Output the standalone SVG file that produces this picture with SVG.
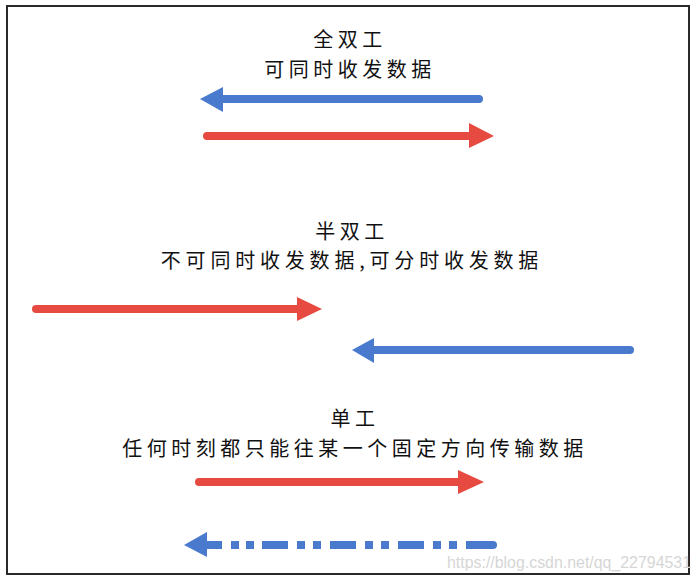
<svg xmlns="http://www.w3.org/2000/svg" width="698" height="581" viewBox="0 0 698 581">
  <style>
    .t { font-family: "Noto Sans CJK SC", "Noto Sans", sans-serif; font-size: 20px; fill: #111; text-anchor: middle; letter-spacing: 4.5px; }
    .red { stroke: #e64a40; fill: none; stroke-width: 8; stroke-linecap: round; }
    .blue { stroke: #4a7acd; fill: none; stroke-width: 8; stroke-linecap: round; }
    .bluedash { stroke: #4a7acd; fill: none; stroke-width: 8; stroke-linecap: butt; }
    .rh { fill: #e64a40; }
    .bh { fill: #4a7acd; }
    .wm { font-family: "Liberation Sans", Arial, sans-serif; font-size: 16px; fill: #d6d6d6; }
  </style>
  <rect x="0" y="0" width="698" height="581" fill="#ffffff"/>
  <rect x="7" y="6" width="682" height="568" fill="none" stroke="#2a2a2a" stroke-width="2"/>

  <g id="full-duplex">
    <text class="t" x="350" y="47">全双工</text>
    <text class="t" x="350" y="77">可同时收发数据</text>
  </g>
  <g id="half-duplex">
    <text class="t" x="352" y="239">半双工</text>
    <text class="t" x="352" y="268" style="letter-spacing:4.8px">不可同时收发数据,可分时收发数据</text>
  </g>
  <g id="simplex">
    <text class="t" x="355" y="426">单工</text>
    <text class="t" x="355" y="456">任何时刻都只能往某一个固定方向传输数据</text>
  </g>

  <g id="connectors">
    <!-- full duplex -->
    <path class="blue" d="M 479 99 H 220"/>
    <polygon class="bh" points="200,99 223,87 223,112"/>
    <path class="red" d="M 207 136 H 472"/>
    <polygon class="rh" points="494,136 469,123 469,148"/>
    <!-- half duplex -->
    <path class="red" d="M 36 309 H 300"/>
    <polygon class="rh" points="322,309 297,297 297,321"/>
    <path class="blue" d="M 630 350 H 370"/>
    <polygon class="bh" points="352,350 374,338 374,363"/>
    <!-- simplex -->
    <path class="red" d="M 199 482 H 461"/>
    <polygon class="rh" points="484,482 458,470 458,494"/>
    <polygon class="bh" points="184,545 207,532 207,557"/>
    <path class="bluedash" d="M 205 545 H 222 M 231 545 H 239 M 246 545 H 254 M 262 545 H 288 M 297 545 H 305 M 313 545 H 321 M 330 545 H 356 M 365 545 H 373 M 381 545 H 389 M 398 545 H 424 M 433 545 H 441 M 449 545 H 457 M 466 545 H 493"/>
    <circle cx="493" cy="545" r="4" class="bh"/>
  </g>

  <text class="wm" x="447" y="568" textLength="244" lengthAdjust="spacingAndGlyphs">https://blog.csdn.net/qq_22794531</text>
</svg>
